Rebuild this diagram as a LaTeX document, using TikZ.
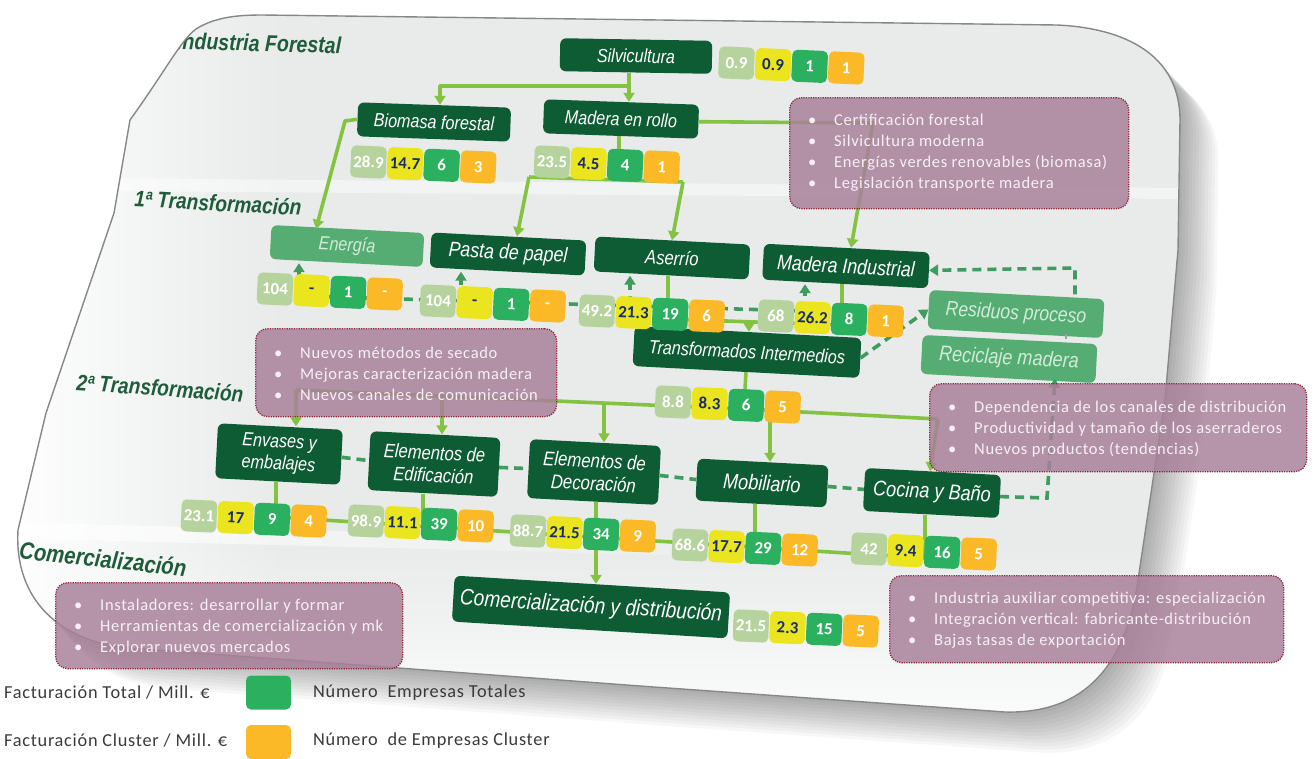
\documentclass[tikz,border=0pt]{standalone}
\usepackage{fontspec}
\setmainfont{Carlito}
\newfontfamily\boxfont[FakeStretch=0.85]{Liberation Sans}
\newfontfamily\spacedfont[LetterSpace=4]{Carlito}
\usetikzlibrary{arrows.meta,fadings}

\definecolor{cDark}{HTML}{0E5C33}
\definecolor{cLight}{HTML}{55AD73}
\definecolor{cLightTxt}{HTML}{D2EBD9}
\definecolor{cLine}{HTML}{84C341}
\definecolor{cDash}{HTML}{3F9B5E}
\definecolor{cSage}{HTML}{B7D39D}
\definecolor{cYel}{HTML}{EAE51F}
\definecolor{cGrn}{HTML}{2BB05F}
\definecolor{cOra}{HTML}{FBB927}
\definecolor{cNavy}{HTML}{1B2D66}
\definecolor{cPur}{HTML}{A8809A}
\definecolor{cBor}{HTML}{8E2336}
\definecolor{cNoteTxt}{HTML}{F7F0F4}
\definecolor{cHead}{HTML}{1E5C3A}
\definecolor{cSheet}{HTML}{E8EBEA}
\definecolor{cRim}{HTML}{858888}
\definecolor{cLeg}{HTML}{3A3A3A}
\definecolor{cJoin}{HTML}{9AA5A0}

\tikzfading[name=fadeToRight, left color=transparent!0, right color=transparent!100]
\tikzfading[name=fadeToTop, bottom color=transparent!0, top color=transparent!100]

% outline of the tilted sheet
\newcommand\sheetpath{(262,15) -- (1057,25) .. controls (1125,28) and (1180,55) .. (1180,120)
  -- (1178,250) -- (1165,400) -- (1138,580) .. controls (1126,665) and (1085,714) .. (1005,712)
  -- (640,686) -- (130,648) .. controls (60,642) and (14,600) .. (18,530)
  -- (46,413) -- (114,213) -- (130,120) .. controls (166,70) and (181,40) .. (196,29)
  .. controls (215,17) and (238,15) .. (262,15) -- cycle}

% four value badges in a row
\newcommand\badgerow[7]{%
  \begin{scope}[shift={(#2,#3)},rotate=-2.6]
    \node[badge,fill=cSage] (#1-1) at (0,0) {#4};
    \node[badge,fill=cYel,text=cNavy] (#1-2) at (36.6,0) {#5};
    \node[badge,fill=cGrn] (#1-3) at (73.2,0) {#6};
    \node[badge,fill=cOra] (#1-4) at (109.8,0) {#7};
  \end{scope}}

\begin{document}
\begin{tikzpicture}[x=1pt,y=-1pt,
  box/.style={rectangle, rounded corners=6pt, fill=cDark, text=white, inner sep=0pt,
    font=\boxfont\itshape\fontsize{19}{22}\selectfont, align=center},
  fs/.style={font=\boxfont\itshape\fontsize{#1}{22.5}\selectfont},
  lbox/.style={box, fill=cLight, text=cLightTxt},
  badge/.style={rectangle, rounded corners=5pt, minimum width=35.6pt, minimum height=32pt,
    inner sep=0pt, text=white, font=\bfseries\fontsize{17}{17}\selectfont, rotate=-2.6},
  head/.style={text=cHead, inner sep=0pt, font=\boxfont\bfseries\itshape\fontsize{22.5}{22.5}\selectfont},
  flow/.style={draw=cLine, line width=3.6pt, line join=round},
  dflow/.style={draw=cDash, line width=3.6pt, dash pattern=on 9pt off 6pt},
  arr/.style={-{Triangle[length=9pt,width=11pt]}},
  note/.style={rectangle, rounded corners=12pt, fill=cPur, fill opacity=0.84,
    draw=cBor, draw opacity=1, dash pattern=on 1.2pt off 1.2pt, line width=1.3pt,
    anchor=north west, inner sep=0pt},
  notetext/.style={text=cNoteTxt, font=\spacedfont\fontsize{16.5}{21}\selectfont, align=left,
    anchor=west, inner sep=0pt},
  legtext/.style={text=cLeg, inner sep=0pt, anchor=west, font=\spacedfont\fontsize{18.3}{20}\selectfont},
  legsq/.style={rectangle, rounded corners=5pt, minimum width=45pt, minimum height=34pt, inner sep=0pt}
]
\useasboundingbox (0,0) rectangle (1315,758);

% ---------- sheet with its shadow ----------
\foreach \i in {1,...,12} {
  \fill[black, opacity=0.03, shift={(3.2*\i,3.4*\i)}] \sheetpath;
}
\begin{scope}
  \clip \sheetpath;
  \fill[cSheet] (0,0) rectangle (1315,758);
  % lighter bands between the stages
  \fill[white, opacity=0.45] (100,178) -- (1180,188) -- (1180,199) -- (100,191) -- cycle;
  \fill[white, opacity=0.75, path fading=fadeToRight] (0,522) -- (900,546) -- (900,561) -- (0,538) -- cycle;
  \fill[white, path fading=fadeToRight] (0,0) rectangle (290,758);
  \fill[white, path fading=fadeToTop, opacity=0.85] (0,540) rectangle (1315,720);
  \node[head, anchor=west, rotate=-1.5, font=\boxfont\bfseries\itshape\fontsize{23}{23}\selectfont]
    (h0) at (177,41) {Industria Forestal};
\end{scope}
\draw[cRim, line width=1.4pt] \sheetpath;

% ---------- stage titles ----------
\node[head, rotate=-3] (h1) at (218,203) {1ª Transformación};
\node[head, rotate=-4] (h2) at (160,388) {2ª Transformación};
\node[head, rotate=-6, font=\boxfont\bfseries\itshape\fontsize{24}{24}\selectfont] (h3) at (103,559) {Comercialización};

% ---------- process boxes ----------
\node[box, rotate=-1, minimum width=152pt, minimum height=33pt] (silv) at (636,56) {Silvicultura};
\node[box, rotate=-2, minimum width=153pt, minimum height=34pt] (bio) at (434,122) {Biomasa forestal};
\node[box, rotate=-2, minimum width=155pt, minimum height=34pt] (rollo) at (621,119) {Madera en rollo};
\node[lbox, rotate=-3, minimum width=153pt, minimum height=34pt] (ener) at (347,246) {Energía};
\node[box, fs=21, rotate=-3, minimum width=155pt, minimum height=35pt] (pasta) at (508,254) {Pasta de papel};
\node[box, fs=19.5, rotate=-3, minimum width=155pt, minimum height=35pt] (aserr) at (672,258) {Aserrío};
\node[box, fs=21, rotate=-3, minimum width=166pt, minimum height=36pt] (mind) at (846,266) {Madera Industrial};
\node[lbox, fs=20.7, rotate=-3, minimum width=175pt, minimum height=39pt] (resid) at (1016,314) {Residuos proceso};
\node[lbox, fs=21.3, rotate=-3, minimum width=175pt, minimum height=39pt] (recic) at (1009,359) {Reciclaje madera};
\node[box, rotate=-3, minimum width=227pt, minimum height=40pt] (trans) at (747,352) {Transformados Intermedios};
\node[box, rotate=-3, minimum width=125pt, minimum height=55pt] (envas) at (279,454) {Envases y\\embalajes};
\node[box, fs=19.5, rotate=-3, minimum width=130pt, minimum height=59pt] (edif) at (434,464) {Elementos de\\Edificación};
\node[box, fs=19.8, rotate=-3, minimum width=131pt, minimum height=59pt] (decor) at (594,472) {Elementos de\\Decoración};
\node[box, fs=21.3, rotate=-3, minimum width=131pt, minimum height=42pt] (mobil) at (762,483) {Mobiliario};
\node[box, fs=21.3, rotate=-3, minimum width=136pt, minimum height=43pt] (cocina) at (932,493) {Cocina y Baño};
\node[box, fs=22.5, rotate=-3.5, minimum width=276pt, minimum height=46pt] (comer) at (591,607) {Comercialización y distribución};

% ---------- connectors: first stage ----------
\coordinate (j1) at (629,86);
\coordinate (j2) at (440,86);
\draw[flow] (silv.south -| j1) -- (j1);
\draw[flow,arr] (j1) -- (j2) -- (bio.north -| j2);
\draw[flow,arr] (j1) -- (rollo.north -| j1);

\coordinate (b1) at (345,121);
\coordinate (b2) at (316,0);
\draw[flow,arr] (bio.west) -- (b1) -- (ener.north -| b2);

\coordinate (r1) at (619,180);
\coordinate (r2) at (529,177);
\coordinate (r3) at (683,182);
\coordinate (p2) at (517,0);
\coordinate (a0) at (672,0);
\draw[flow] (rollo.south -| r1) -- (r1);
\draw[flow] (r2) -- (r3);
\draw[flow,arr] (r2) -- (pasta.north -| p2);
\draw[flow,arr] (r3) -- (aserr.north -| a0);

\coordinate (m1) at (873,123);
\coordinate (m2) at (851,0);
\draw[flow,arr] (rollo.east) -- (m1) -- (mind.north -| m2);

\coordinate (a1) at (668,319);
\coordinate (a2) at (842,325);
\coordinate (t1) at (749,322);
\draw[flow] (aserr.south -| a1) -- (a1) -- (a2) -- (mind.south -| a2);
\draw[flow,arr] (t1) -- (trans.north -| t1);

% dashed feed towards the first-stage boxes
\coordinate (d1) at (299,296);
\coordinate (d2) at (461,300);
\coordinate (d3) at (630,305);
\coordinate (d4) at (805,311);
\draw[dflow] (d1) -- (d4);
\draw[dflow,arr] (d1) -- (ener.south -| d1);
\draw[dflow,arr] (d2) -- (pasta.south -| d2);
\draw[dflow,arr] (d3) -- (aserr.south -| d3);
\draw[dflow,arr] (d4) -- (mind.south -| d4);

% by-products loop
\coordinate (q1) at (1075,268);
\coordinate (q2) at (1066,0);
\coordinate (c1) at (1047,498);
\coordinate (c2) at (1055,0);
\draw[dflow,arr] (trans.east) -- (resid.west);
\draw[dflow,arr] (resid.north -| q1) -- (q1) -- (mind.east);
\draw[cJoin, line width=2.5pt] (resid.south -| q2) -- (recic.north -| q2);
\draw[dflow,arr] (cocina.east) -- (c1) -- (recic.south -| c2);

% ---------- connectors: second stage ----------
\coordinate (j3) at (744,409);
\coordinate (hL) at (296,390);
\coordinate (hR) at (938,419);
\coordinate (e2) at (442,396.5);
\coordinate (e3) at (604,403.5);
\coordinate (e4) at (770,410.5);
\coordinate (c3) at (930,0);
\draw[flow] (trans.south) -- (j3);
\draw[flow] (hL) -- (j3) -- (hR);
\draw[flow,arr] (hL) -- (envas.north -| hL);
\draw[flow,arr] (e2) -- (edif.north -| e2);
\draw[flow,arr] (e3) -- (decor.north -| e3);
\draw[flow,arr] (e4) -- (mobil.north -| e4);
\draw[flow,arr] (hR) -- (cocina.north -| c3);

\draw[dflow] (envas.east) -- (edif.west);
\draw[dflow] (edif.east) -- (decor.west);
\draw[dflow] (decor.east) -- (mobil.west);
\draw[dflow] (mobil.east) -- (cocina.west);

\coordinate (kL) at (276,517);
\coordinate (kR) at (925,558);
\coordinate (k2) at (423,526);
\coordinate (k3) at (596,537);
\coordinate (k4) at (755,547);
\draw[flow] (kL) -- (kR);
\draw[flow] (envas.south -| kL) -- (kL);
\draw[flow] (edif.south -| k2) -- (k2);
\draw[flow] (decor.south -| k3) -- (k3);
\draw[flow] (mobil.south -| k4) -- (k4);
\draw[flow] (cocina.south -| kR) -- (kR);
\draw[flow,arr] (k3) -- (comer.north -| k3);

% ---------- value badges ----------
\badgerow{silvB}{736.5}{63}{0.9}{0.9}{1}{1}
\badgerow{bioB}{368.5}{162}{28.9}{14.7}{6}{3}
\badgerow{rolloB}{552}{162}{23.5}{4.5}{4}{1}
\badgerow{enerB}{275}{289}{104}{-}{1}{-}
\badgerow{pastaB}{438}{301}{104}{-}{1}{-}
\badgerow{aserrB}{597}{311}{49.2}{21.3}{19}{6}
\badgerow{mindB}{776}{316}{68}{26.2}{8}{1}
\badgerow{transB}{673}{402}{8.8}{8.3}{6}{5}
\badgerow{envasB}{199}{516}{23.1}{17}{9}{4}
\badgerow{edifB}{366}{521}{98.9}{11.1}{39}{10}
\badgerow{decorB}{528}{531}{88.7}{21.5}{34}{9}
\badgerow{mobilB}{690}{545}{68.6}{17.7}{29}{12}
\badgerow{cocinaB}{869}{549}{42}{9.4}{16}{5}
\badgerow{comerB}{751}{626}{21.5}{2.3}{15}{5}

% ---------- notes ----------
\node[note, minimum width=339pt, minimum height=111pt] (n1) at (789,97) {};
\node[notetext] (n1t) at ([xshift=19pt]n1.west)
  {\makebox[26pt][l]{\textbullet}Certificación forestal\\
   \makebox[26pt][l]{\textbullet}Silvicultura moderna\\
   \makebox[26pt][l]{\textbullet}Energías verdes renovables (biomasa)\\
   \makebox[26pt][l]{\textbullet}Legislación transporte madera};
\node[note, minimum width=301pt, minimum height=88pt] (n2) at (255,328) {};
\node[notetext] (n2t) at ([xshift=19pt,yshift=-1pt]n2.west)
  {\makebox[26pt][l]{\textbullet}Nuevos métodos de secado\\
   \makebox[26pt][l]{\textbullet}Mejoras caracterización madera\\
   \makebox[26pt][l]{\textbullet}Nuevos canales de comunicación};
\node[note, minimum width=377pt, minimum height=88pt] (n3) at (929,383) {};
\node[notetext] (n3t) at ([xshift=19pt,yshift=-1pt]n3.west)
  {\makebox[26pt][l]{\textbullet}Dependencia de los canales de distribución\\
   \makebox[26pt][l]{\textbullet}Productividad y tamaño de los aserraderos\\
   \makebox[26pt][l]{\textbullet}Nuevos productos (tendencias)};
\node[note, minimum width=347pt, minimum height=86pt] (n4) at (55,582) {};
\node[notetext] (n4t) at ([xshift=19pt,yshift=-1pt]n4.west)
  {\makebox[26pt][l]{\textbullet}Instaladores: desarrollar y formar\\
   \makebox[26pt][l]{\textbullet}Herramientas de comercialización y mk\\
   \makebox[26pt][l]{\textbullet}Explorar nuevos mercados};
\node[note, minimum width=394pt, minimum height=87pt] (n5) at (889,575) {};
\node[notetext] (n5t) at ([xshift=19pt,yshift=-1.5pt]n5.west)
  {\makebox[26pt][l]{\textbullet}Industria auxiliar competitiva: especialización\\
   \makebox[26pt][l]{\textbullet}Integración vertical: fabricante-distribución\\
   \makebox[26pt][l]{\textbullet}Bajas tasas de exportación};

% ---------- legend ----------
\node[legtext] (lg1) at (4,693) {Facturación Total / Mill. €};
\node[legsq, fill=cGrn] (lg2) at (268.5,692.5) {};
\node[legtext] (lg3) at (313,693) {Número\ \ Empresas Totales};
\node[legtext] (lg4) at (4,741) {Facturación Cluster / Mill. €};
\node[legsq, fill=cOra] (lg5) at (268.5,742) {};
\node[legtext] (lg6) at (313,741) {Número\ \ de Empresas Cluster};
\end{tikzpicture}
\end{document}
